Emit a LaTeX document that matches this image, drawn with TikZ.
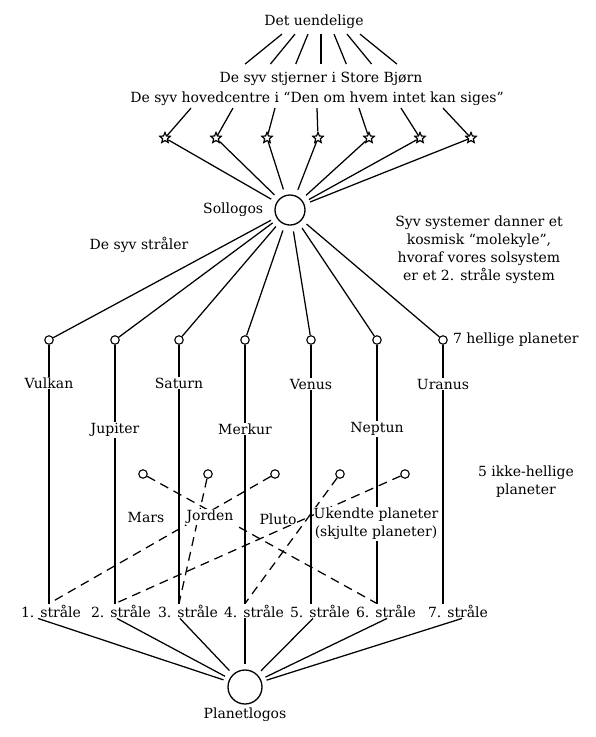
\documentclass[tikz,border=0pt]{standalone}
\usepackage{fontspec}
\setmainfont{DejaVu Serif}
\usetikzlibrary{positioning,shapes.geometric,backgrounds,calc}

\begin{document}
\begin{tikzpicture}[
  x=1pt, y=-1pt,
  lbl/.style={font=\fontsize{14}{18}\selectfont, inner sep=1pt, fill=white, align=center},
  logos/.style={draw, circle, line width=1.3pt, inner sep=0pt},
  orb/.style={draw, circle, line width=1.1pt, minimum size=8.5pt, inner sep=0pt},
  stjerne/.style={draw, star, star points=5, star point ratio=2.2, minimum size=11pt, inner sep=0pt, line width=1.2pt},
  ray/.style={line width=1.25pt},
  hid/.style={line width=1.25pt, dash pattern=on 9pt off 6pt}
]
\useasboundingbox (0,0) rectangle (595,737);

\node[lbl] (uend)  at (314,22) {Det uendelige};
\node[lbl] (bjorn) at (321,79) {De syv stjerner i Store Bjørn};
\node[lbl] (hoved) at (317,99) {De syv hovedcentre i “Den om hvem intet kan siges”};
\foreach \i in {1,...,7}
  \node[stjerne] (st\i) at ({318+51*(\i-4)},138) {};

\node[logos, minimum size=30pt] (sol) at (290,210) {};
\node[lbl, left=10pt of sol] (sollbl) {Sollogos};
\node[lbl] (straaler) at (139,245) {De syv stråler};
\node[lbl] (syv) at (479,250) {Syv systemer danner et\\kosmisk “molekyle”,\\hvoraf vores solsystem\\er et 2. stråle system};

\foreach \i/\px in {1/49,2/115,3/179,4/245,5/311,6/377,7/443}
  \node[orb] (p\i) at (\px,340) {};
\node[lbl, right=4pt of p7] (hellige) {7 hellige planeter};

\node[lbl] (vulkan)  at (49,383)  {Vulkan};
\node[lbl] (saturn)  at (179,383) {Saturn};
\node[lbl] (venus)   at (311,384) {Venus};
\node[lbl] (uranus)  at (443,384) {Uranus};
\node[lbl] (jupiter) at (115,430) {Jupiter};
\node[lbl] (merkur)  at (245,429) {Merkur};
\node[lbl] (neptun)  at (377,429) {Neptun};

\foreach \i/\px in {1/143,2/208,3/275,4/340,5/405}
  \node[orb] (u\i) at (\px,474) {};
\node[lbl] (ikke) at (526,482) {5 ikke-hellige\\planeter};

\node[lbl] (mars)   at (146,517) {Mars};
\node[lbl] (jorden) at (210,517) {Jorden};
\node[lbl] (pluto)  at (278,519) {Pluto};
\node[lbl, inner xsep=0pt] (ukendt) at (376,524) {Ukendte planeter\\(skjulte planeter)};

\foreach \i/\px in {1/51,2/121,3/188,4/254,5/320,6/386,7/458}
  \node[lbl] (str\i) at (\px,611) {\i. stråle};

\node[logos, minimum size=34pt] (plog) at (245,687) {};
\node[lbl, below=2pt of plog] (ploglbl) {Planetlogos};

\begin{scope}[on background layer]
\foreach \i in {-3,...,3}
  \draw[ray] ($(uend.south)+({7+13*\i},4)$) -- ($(bjorn.north)+({25.3*\i},-7)$);
\foreach \i in {1,...,7} {
  \draw[ray] ($(hoved.south)+({42*(\i-4)},1)$) -- (st\i);
  \draw[ray, shorten >=6pt] (st\i) -- (sol);
  \draw[ray, shorten <=6pt] (sol) -- (p\i);
  \draw[ray] (p\i) -- (p\i |- str\i.north);
}
\draw[hid] (u1) -- (p6 |- str6.north);
\draw[hid] (u2) -- (p3 |- str3.north);
\draw[hid] (u3) -- (p1 |- str1.north);
\draw[hid] (u4) -- (p4 |- str4.north);
\draw[hid] (u5) -- (p2 |- str2.north);
\foreach \i/\dx in {1/-13,2/-4,3/-8,4/-9,5/-7,6/1,7/4}
  \draw[ray, shorten >=5pt] ($(str\i.south)+(\dx,0)$) -- (plog);
\end{scope}
\end{tikzpicture}
\end{document}
